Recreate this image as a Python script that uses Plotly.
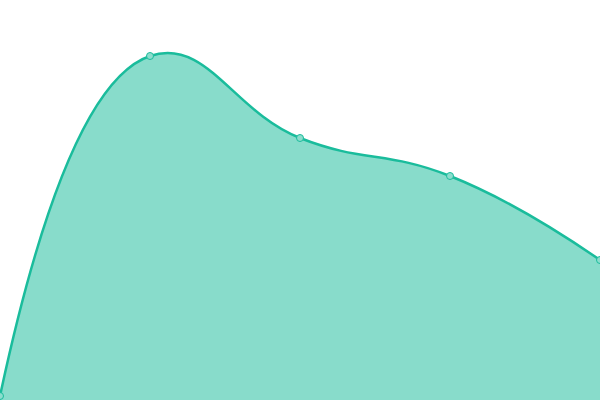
import plotly.graph_objects as go

# data
x_vals = [0, 1, 2, 3, 4]
y_vals = [1, 86, 65.5, 56, 35]

fig = go.Figure()

fig.add_trace(go.Scatter(
    x=x_vals,
    y=y_vals,
    mode='lines+markers',
    line=dict(color='#1abc9c', width=2.5, shape='spline', smoothing=1.3),
    marker=dict(size=7, color='#8cddcd', line=dict(color='#1abc9c', width=1)),
    fill='tozeroy',
    fillcolor='rgba(26,188,156,0.52)',
    cliponaxis=False,
    hoverinfo='skip',
))

fig.update_layout(
    width=600,
    height=400,
    margin=dict(l=0, r=0, t=0, b=0),
    paper_bgcolor='white',
    plot_bgcolor='white',
    showlegend=False,
    xaxis=dict(range=[0, 4], visible=False),
    yaxis=dict(range=[0, 100], visible=False),
)

# 去掉页面默认边距，让图表贴满窗口
fig.write_html("out.html", config={'displayModeBar': False},
               post_script="document.body.style.margin='0';")
